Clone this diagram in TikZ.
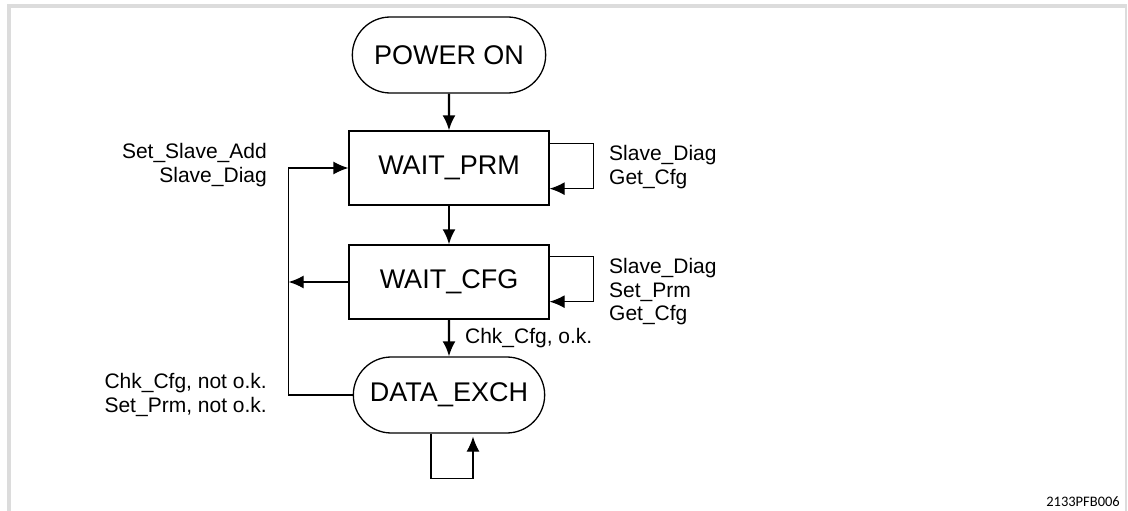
\documentclass[tikz,border=0pt]{standalone}
\usepackage{fontspec}
\setmainfont{Liberation Sans}
\newfontfamily\notefont{Carlito}
\usetikzlibrary{arrows.meta,shapes.misc,calc}
\definecolor{framegray}{RGB}{220,220,220}
\tikzset{
  state/.style={draw, line width=1.3pt, minimum width=200pt, minimum height=74pt,
    font=\fontsize{27}{31}\selectfont},
  term/.style={state, rounded rectangle, minimum height=76pt},
  flow/.style={-{Latex[length=15pt,width=13pt]}, line width=2.2pt},
  back/.style={-{Latex[length=15pt,width=13pt]}, line width=1.3pt},
  lbl/.style={font=\fontsize{21}{23.5}\selectfont, inner sep=0pt},
}
\begin{document}
\begin{tikzpicture}[x=1pt, y=-1pt]
    \useasboundingbox (0,0) rectangle (1128,511);
    % Rahmen
    \fill[framegray] (7,4) rectangle (1126,8);
    \fill[framegray] (7,4) rectangle (11,511);
    \fill[framegray] (1125,4) rectangle (1126.5,511);
    % Zustaende
    \node[term] (poweron) at (449,55) {POWER ON};
    \node[state] (waitprm) at (449,168) {WAIT\_PRM};
    \node[state] (waitcfg) at (449,282) {WAIT\_CFG};
    \node[term, minimum width=198pt] (dataexch) at (449,395) {DATA\_EXCH};
    % Uebergaenge
    \draw[flow] (poweron) -- (waitprm);
    \draw[flow] (waitprm) -- (waitcfg);
    \draw[flow] (waitcfg) -- node[lbl, right=15pt] (cfgok) {Chk\_Cfg, o.k.} (dataexch);
    % Ruecksprung
    \draw[back] (dataexch.west) -- ++(-64,0) coordinate (fb) |- (waitprm.west);
    \draw[back] (waitcfg.west) -- (fb |- waitcfg.west);
    \node[lbl, anchor=east, align=right] (prmback) at (267,165) {Set\_Slave\_Add\\Slave\_Diag};
    \node[lbl, anchor=east, align=right] (exchback) at (267,395) {Chk\_Cfg, not o.k.\\Set\_Prm, not o.k.};
    % Schleifen
    \draw[back] ($(waitprm.north east)+(0,13)$) -- ++(44,0) |- ($(waitprm.south east)+(0,-17)$);
    \draw[back] ($(waitcfg.north east)+(0,12)$) -- ++(44,0) |- ($(waitcfg.south east)+(0,-18)$);
    \draw[back] ($(dataexch.south)+(-18,0)$) -- ++(0,45) -| ($(dataexch.south)+(24,3)$);
    \node[lbl, anchor=west, align=left] (prmself) at (609,167) {Slave\_Diag\\Get\_Cfg};
    \node[lbl, anchor=west, align=left] (cfgself) at (609,292) {Slave\_Diag\\Set\_Prm\\Get\_Cfg};
    % Bildnummer
    \node[font=\notefont\fontsize{14.5}{16}\selectfont, anchor=east, inner sep=0pt] (figno) at (1120,502) {2133PFB006};
\end{tikzpicture}
\end{document}
